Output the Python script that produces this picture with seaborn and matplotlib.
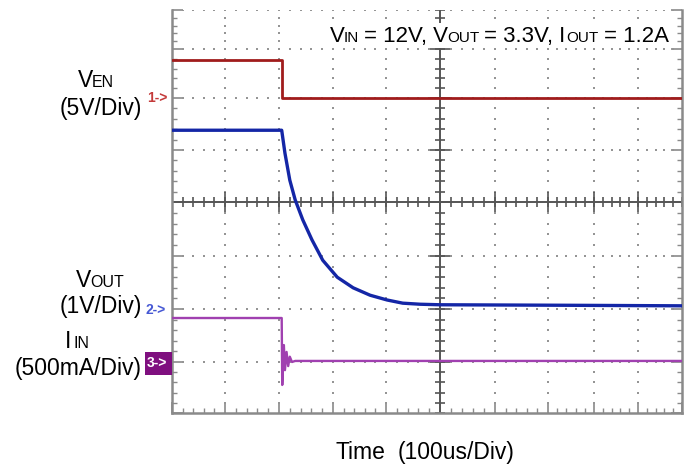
import numpy as np
import pandas as pd
import matplotlib
matplotlib.use("Agg")
import matplotlib.pyplot as plt
import matplotlib.patches as mpatches
import seaborn as sns

W, H = 694, 472

# scope screen: where each division line sits in the capture (it is stretched unevenly)
X_DIV = [-5, -4, -3, -2, -1, 0, 1, 2, 3, 4, 5]
X_PX = [172, 225, 279, 333, 386, 440, 495, 548, 594, 638, 682]
Y_DIV = [-4, -3, -2, -1, 0, 1, 2, 3, 4]
Y_PX = [413, 362, 309, 256, 202, 150, 98, 49, 10]

# -------------------
# waveform data (time in us, 100us/Div)
# -------------------
time_per_div = 100

ven_t = [-500, -295, -295, 500]
ven_v = [3.9, 3.9, 0.0, 0.0]            # 5V/Div, ground marker at +2 div

vout_t = [-500, -295, -289, -280, -270, -256, -239, -219, -192, -162,
          -130, -98, -69, -37, 0, 250, 500]
vout_v = [3.38, 3.38, 2.94, 2.42, 2.04, 1.67, 1.30, 0.92, 0.60, 0.40,
          0.26, 0.17, 0.11, 0.09, 0.08, 0.07, 0.06]   # 1V/Div, ground at -2 div

iin_t = [-500, -295, -294, -291, -289, -286, -283, -280, -276, -270, 500]
iin_a = [0.415, 0.415, -0.225, 0.16, -0.08, 0.095, -0.04, 0.05, 0.0, 0.01, 0.01]  # 500mA/Div, ground at -3 div

channels = [
    ("VEN", ven_t, ven_v, 5.0, 2, "#a01c1c", 2.0),
    ("VOUT", vout_t, vout_v, 1.0, -2, "#1426a6", 2.4),
    ("IIN", iin_t, iin_a, 0.5, -3, "#a040b0", 1.7),
]


def fwd_x(d):
    return np.interp(d, X_DIV, X_PX)


def inv_x(p):
    return np.interp(p, X_PX, X_DIV)


def fwd_y(d):
    return -np.interp(d, Y_DIV, Y_PX)


def inv_y(p):
    return np.interp(-np.asarray(p), Y_PX[::-1], Y_DIV[::-1])


sns.set_style("white")
plt.rcParams["font.family"] = ["Liberation Sans", "DejaVu Sans"]

fig = plt.figure(figsize=(W / 100, H / 100), dpi=100)
ax = fig.add_axes([X_PX[0] / W, 1 - Y_PX[0] / H,
                   (X_PX[-1] - X_PX[0]) / W, (Y_PX[0] - Y_PX[-1]) / H])
ax.set_xscale("function", functions=(fwd_x, inv_x))
ax.set_yscale("function", functions=(fwd_y, inv_y))
ax.set_xlim(-5, 5)
ax.set_ylim(-4, 4)

# dotted graticule
minor_x = np.round(np.arange(-5, 5.01, 0.2), 2)
minor_y = np.round(np.arange(-4, 4.01, 0.2), 2)
dot_x, dot_y = [], []
for gx in [-4, -3, -2, -1, 1, 2, 3, 4]:
    dot_x += [gx] * len(minor_y)
    dot_y += list(minor_y)
for gy in [-3, -2, -1, 1, 2, 3, 4]:
    dot_x += list(minor_x)
    dot_y += [gy] * len(minor_x)
ax.scatter(dot_x, dot_y, s=3.2, marker="s", linewidths=0, color="#959595", zorder=1)

# center cross with ticks
ax.axhline(0, color="#555555", lw=1.4, zorder=1)
ax.axvline(0, color="#555555", lw=1.4, zorder=1)
ax.plot(minor_x, np.zeros_like(minor_x), ls="none", marker="|", ms=7,
        mew=1.2, color="#555555", zorder=1)
ax.plot(np.arange(-4, 5), np.zeros(9), ls="none", marker="|", ms=15,
        mew=1.2, color="#555555", zorder=1)
ax.plot(np.zeros_like(minor_y), minor_y, ls="none", marker="_", ms=7,
        mew=1.2, color="#555555", zorder=1)
ax.plot(np.zeros(7), np.arange(-3, 4), ls="none", marker="_", ms=15,
        mew=1.2, color="#555555", zorder=1)

# traces
for name, t, v, scale, offset, color, lw in channels:
    df = pd.DataFrame({"t": np.array(t) / time_per_div,
                       "div": np.array(v) / scale + offset})
    sns.lineplot(data=df, x="t", y="div", ax=ax, color=color, lw=lw,
                 estimator=None, sort=False, zorder=3)

# frame
for side in ["left", "bottom", "right"]:
    ax.spines[side].set_color("#8a8a8a")
    ax.spines[side].set_linewidth(1.8)
ax.spines["top"].set_visible(False)
ax.set_xticks(np.arange(-5, 6))
ax.set_yticks(np.arange(-4, 5))
ax.set_xticks(minor_x, minor=True)
ax.set_yticks(minor_y, minor=True)
ax.tick_params(which="both", direction="in", colors="#8a8a8a",
               labelbottom=False, labelleft=False, left=True, bottom=True,
               right=True, top=False)
ax.tick_params(which="major", length=8, width=1.2)
ax.tick_params(which="minor", length=3.5, width=1.0)
ax.set_xlabel("")
ax.set_ylabel("")

BIG, SMALL = 16.5, 11.5


def mixed_text(x, y, parts, ha="left", color="black", zorder=5):
    # parts: (text, size, gap before in px); x/y in pixels from top-left, y is the baseline
    r = fig.canvas.get_renderer()
    items = []
    for s, fs, gap in parts:
        t = fig.text(0, 0, s, fontsize=fs, va="baseline", color=color, zorder=zorder)
        items.append((t, t.get_window_extent(r).width, gap))
    total = sum(w + g for _, w, g in items)
    x0 = x - total * {"left": 0, "center": 0.5, "right": 1}[ha]
    for t, w, g in items:
        x0 += g
        t.set_position((x0 / W, 1 - y / H))
        x0 += w


# left channel labels
mixed_text(96, 87, [("V", BIG, 0), ("EN", SMALL, -1)], ha="center")
mixed_text(142, 115, [("(5V/Div)", BIG, 0)], ha="right")
mixed_text(100, 287, [("V", BIG, 0), ("OUT", SMALL, -1)], ha="center")
mixed_text(142, 313, [("(1V/Div)", BIG, 0)], ha="right")
mixed_text(77, 348, [("I", BIG, 0), ("IN", SMALL, 2)], ha="center")
mixed_text(142, 375, [("(500mA/Div)", BIG, 0)], ha="right")

# channel ground markers
fig.text(147 / W, 1 - 98 / H, "1->", fontsize=10, fontweight="bold",
         color="#c43a3a", va="center")
fig.text(146 / W, 1 - 310 / H, "2->", fontsize=10, fontweight="bold",
         color="#4658d4", va="center")
fig.add_artist(mpatches.Rectangle((145 / W, 1 - 375 / H), 27 / W, 23 / H,
                                  transform=fig.transFigure, facecolor="#7f0f7f",
                                  edgecolor="none", zorder=4))
fig.text(147 / W, 1 - 363 / H, "3->", fontsize=10, fontweight="bold",
         color="white", va="center", zorder=5)

# operating conditions
fig.add_artist(mpatches.Rectangle((327 / W, 1 - 48 / H), 348 / W, 25 / H,
                                  transform=fig.transFigure, facecolor="white",
                                  edgecolor="none", zorder=4))
mixed_text(330, 42, [("V", 16, 0), ("IN", 11, -1), ("= 12V, V", 16, 5),
                     ("OUT", 11, -1), ("= 3.3V, I", 16, 5), ("OUT", 11, 1),
                     ("= 1.2A", 16, 5)])

# time axis label
mixed_text(425, 459, [("Time", BIG, 0), ("(100us/Div)", BIG, 13)], ha="center")

fig.savefig("out.png", dpi=100)
